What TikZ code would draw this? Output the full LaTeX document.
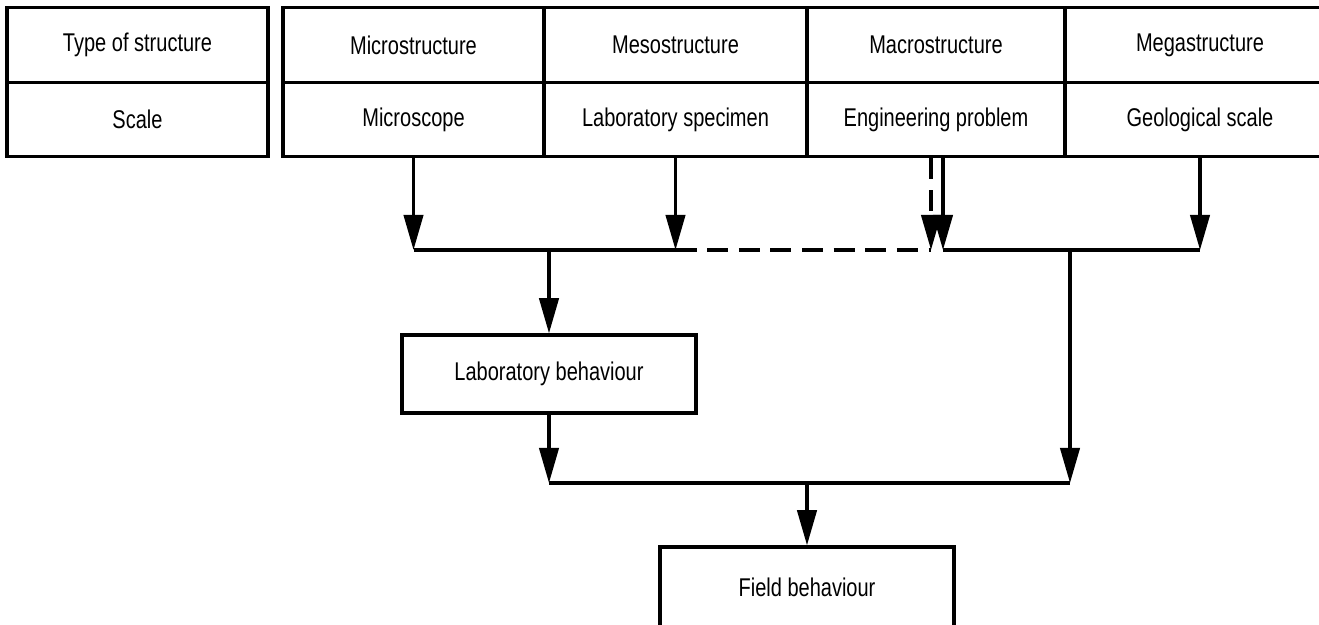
\documentclass[tikz,border=0pt]{standalone}
\usepackage{fontspec}
\setmainfont{Liberation Sans}[FakeStretch=0.78]
\usepackage{tikz}
\usetikzlibrary{positioning,arrows.meta}

\newcommand{\diagfont}{\fontsize{14.6}{17}\selectfont}

\begin{document}
\begin{tikzpicture}[
    x=0.02cm, y=-0.02cm,
    cellBox/.style={rectangle, draw, line width=1.9pt, inner sep=0pt, minimum height=1.49cm, font=\diagfont},
    flowBox/.style={rectangle, draw, line width=1.9pt, inner sep=0pt, minimum width=5.88cm, font=\diagfont},
    flowLine/.style={line width=1.9pt},
    flowArrow/.style={line width=1.9pt, -{Triangle[length=20pt,width=11pt]}},
    dashLink/.style={dash pattern=on 12pt off 6pt}
]
    \useasboundingbox (0,0) rectangle (1319,625);

    % left legend
    \node[cellBox, minimum width=5.22cm] (typeHd)  at (137.5, 45)  {Type of structure};
    \node[cellBox, minimum width=5.22cm] (scaleHd) at (137.5, 119.5) {Scale};

    % table of structures
    \node[cellBox, minimum width=5.22cm] (microT) at (413.5, 45)    {Microstructure};
    \node[cellBox, minimum width=5.22cm] (microS) at (413.5, 119.5) {Microscope};
    \node[cellBox, minimum width=5.26cm] (mesoT)  at (675.5, 45)    {Mesostructure};
    \node[cellBox, minimum width=5.26cm] (mesoS)  at (675.5, 119.5) {Laboratory specimen};
    \node[cellBox, minimum width=5.16cm] (macroT) at (936, 45)      {Macrostructure};
    \node[cellBox, minimum width=5.16cm] (macroS) at (936, 119.5)   {Engineering problem};
    \node[cellBox, minimum width=5.40cm] (megaT)  at (1200, 45)     {Megastructure};
    \node[cellBox, minimum width=5.40cm] (megaS)  at (1200, 119.5)  {Geological scale};

    \node[flowBox, minimum height=1.56cm] (labBox)   at (549, 374) {Laboratory behaviour};
    \node[flowBox, minimum height=1.6cm]  (fieldBox) at (807, 587) {Field behaviour};

    % junctions
    \coordinate (jMicro)  at (microS.south |- 0,250);
    \coordinate (jMeso)   at (mesoS.south |- 0,250);
    \coordinate (jMacroA) at (931,250);
    \coordinate (jMacroB) at (943,250);
    \coordinate (jMega)   at (megaS.south |- 0,250);
    \coordinate (jLab)    at (labBox.north |- 0,250);
    \coordinate (jField)  at (1070,250);
    \coordinate (kLab)    at (labBox.south |- 0,483);
    \coordinate (kField)  at (1070,483);
    \coordinate (kMid)    at (fieldBox.north |- 0,483);

    \draw[flowArrow] (microS.south) -- (jMicro);
    \draw[flowArrow] (mesoS.south) -- (jMeso);
    \draw[flowArrow, dashLink] (jMacroA |- macroS.south) -- (jMacroA);
    \draw[flowArrow] (jMacroB |- macroS.south) -- (jMacroB);
    \draw[flowArrow] (megaS.south) -- (jMega);

    \draw[flowLine] (jMicro) -- (jMeso);
    \draw[flowLine, dashLink] (jMeso) -- (jMacroA);
    \draw[flowLine] (jMacroB) -- (jMega);

    \draw[flowArrow] (jLab) -- (labBox.north);
    \draw[flowArrow] (labBox.south) -- (kLab);
    \draw[flowArrow] (jField) -- (kField);
    \draw[flowLine] (kLab) -- (kField);
    \draw[flowArrow] (kMid) -- (fieldBox.north);
\end{tikzpicture}
\end{document}
